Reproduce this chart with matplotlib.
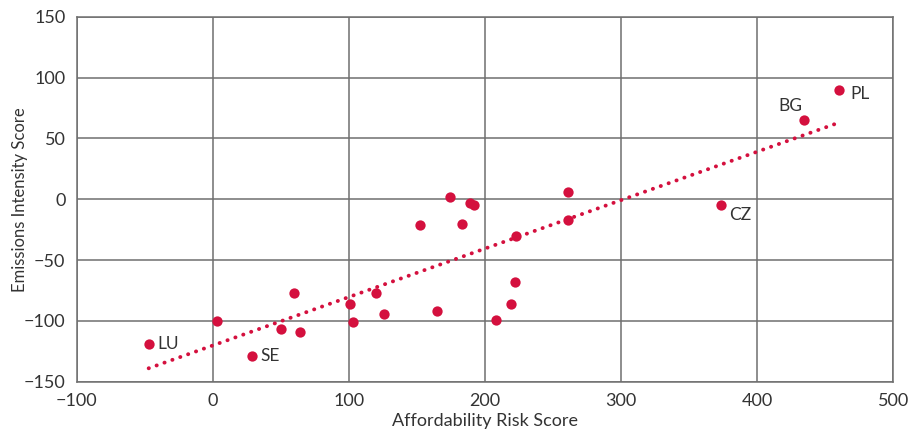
import numpy as np
import matplotlib.pyplot as plt

plt.rcParams['font.family'] = ['Lato', 'DejaVu Sans']

# country scores: affordability risk (x) vs emissions intensity (y)
countries = ["LU", "", "SE", "", "", "", "", "", "", "", "", "", "", "", "", "",
             "", "", "", "", "", "", "CZ", "BG", "PL"]
afford = [-47, 3, 29, 50, 60, 64, 101, 103, 120, 126, 152, 165, 174, 183, 189,
          192, 208, 219, 222, 223, 261, 261, 373, 434, 460]
emiss = [-119, -100, -129, -107, -77, -109, -86, -101, -77, -94, -21, -92, 2, -20,
         -3, -5, -99, -86, -68, -30, 6, -17, -5, 65, 90]

red = "#d4103e"
grid_col = "#6f6f6f"
text_col = "#333333"

fig, ax = plt.subplots(figsize=(9.22, 4.29), dpi=100)
fig.subplots_adjust(left=0.083, right=0.969, top=0.961, bottom=0.11)

ax.scatter(afford, emiss, s=55, color=red, zorder=3, linewidths=0)

# linear trend through the points
x = np.array(afford)
y = np.array(emiss)
k, b = np.polyfit(x, y, 1)
xs = np.array([x.min(), x.max()])
ax.plot(xs, k * xs + b, color=red, lw=2.8, linestyle=(0, (0.05, 2.1)),
        dash_capstyle='round', zorder=2)

# country labels
offsets = {"LU": (6, 0, "left"), "SE": (6, 0, "left"), "CZ": (6, -7, "left"),
           "BG": (-1, 10, "right"), "PL": (8, -3, "left")}
for name, xv, yv in zip(countries, afford, emiss):
    if name:
        dx, dy, ha = offsets[name]
        ax.annotate(name, (xv, yv), xytext=(dx, dy), textcoords="offset points",
                    ha=ha, va="center", fontsize=12.5, color=text_col)

ax.set_xlim(-100, 500)
ax.set_ylim(-150, 150)
ax.set_xticks(np.arange(-100, 501, 100))
ax.set_yticks(np.arange(-150, 151, 50))
ax.grid(True, color=grid_col, lw=1.1)
ax.set_axisbelow(True)
for s in ax.spines.values():
    s.set_color(grid_col)
    s.set_linewidth(1.1)
ax.tick_params(length=0, labelsize=13, colors=text_col, pad=8)
ax.set_xlabel("Affordability Risk Score", fontsize=13, color=text_col, labelpad=3)
ax.set_ylabel("Emissions Intensity Score", fontsize=12, color=text_col, labelpad=-3)

fig.savefig("out.png", dpi=100)
